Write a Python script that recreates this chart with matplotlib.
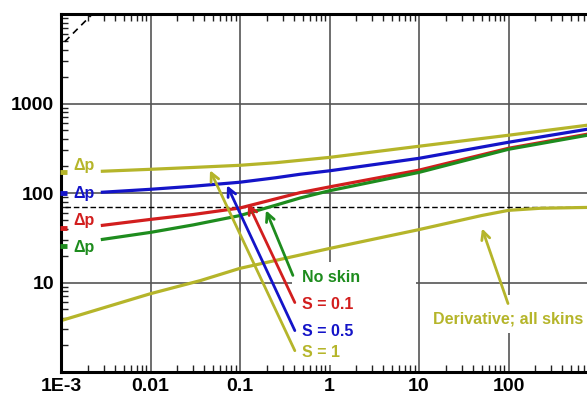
import matplotlib
matplotlib.use('Agg')
import matplotlib.pyplot as plt
from matplotlib.patches import Rectangle
from matplotlib.ticker import LogLocator, NullFormatter

# pressure change curves
t_dp = [0.0029, 0.01, 0.03, 0.1, 0.25, 0.47, 1, 10, 100, 760]
dp_s1 = [175, 184, 193, 204, 218, 232, 250, 333, 442, 572]
dp_s05 = [102, 110, 119, 132, 148, 162, 177, 244, 369, 516]
dp_s01 = [43.5, 50.7, 57.5, 68, 86, 101, 117, 180, 316, 454]
dp_noskin = [30.3, 36.3, 44, 56, 73, 88, 106, 170, 308, 442]

# derivative, same for all skins
t_der = [0.001, 0.01, 0.036, 0.1, 1, 10, 50, 100, 225, 760]
der = [3.75, 7.5, 10.5, 14.4, 24, 39, 56, 64, 67.5, 69]

# unit slope (storage) line and radial flow level
t_ws = [0.0011, 0.0022]
ws = [4900, 9800]
radial_level = 70

# little marks on the y axis for each dp curve
dp_marks = [170, 99.6, 40.2, 25.3]

x_ticks = [1e-3, 1e-2, 1e-1, 1, 10, 100]
x_labels = ['1E-3', '0.01', '0.1', '1', '10', '100']
y_ticks = [10, 100, 1000]
y_labels = ['10', '100', '1000']

yellow = '#b5b52a'
blue = '#1414c8'
red = '#d21e1e'
green = '#1e8c1e'

plt.rcParams['font.family'] = ['Liberation Sans', 'DejaVu Sans']
plt.rcParams['font.weight'] = 'bold'

fig = plt.figure(figsize=(5.87, 3.98), dpi=100)
ax = fig.add_axes([61/587, 26/398, 626.5/587, 358/398])
ax.set_xscale('log')
ax.set_yscale('log')
ax.set_xlim(1e-3, 1e4)
ax.set_ylim(1, 1e4)

ax.set_xticks(x_ticks, x_labels)
ax.set_yticks(y_ticks, y_labels)
ax.xaxis.set_minor_locator(LogLocator(base=10, subs=range(2, 10), numticks=20))
ax.yaxis.set_minor_locator(LogLocator(base=10, subs=range(2, 10), numticks=20))
ax.xaxis.set_minor_formatter(NullFormatter())
ax.yaxis.set_minor_formatter(NullFormatter())
ax.tick_params(which='major', length=0, labelsize=14, pad=4)
ax.tick_params(axis='y', which='major', pad=5)
ax.tick_params(which='minor', direction='in', length=5, width=1, top=True, color='#222222')
for lab in ax.get_xticklabels() + ax.get_yticklabels():
    lab.set_fontweight('bold')

ax.set_axisbelow(True)
ax.grid(True, which='major', color='#555555', lw=1.2)
for side in ['left', 'bottom', 'top']:
    ax.spines[side].set_linewidth(2.2)
ax.spines['right'].set_visible(False)

# white patches where the labels hide the grid
ax.add_patch(Rectangle((0.369, 0.02), 0.198, 0.287, transform=ax.transAxes,
                       facecolor='white', edgecolor='none', zorder=0.8))
ax.add_patch(Rectangle((0.589, 0.109), 0.3, 0.106, transform=ax.transAxes,
                       facecolor='white', edgecolor='none', zorder=0.8))

ax.plot(t_ws, ws, color='black', lw=1.2, ls=(0, (4, 3)))
ax.axhline(radial_level, xmin=0.006, color='black', lw=1.0, ls=(0, (4, 2)))

ax.plot(t_dp, dp_s1, color=yellow, lw=2.3)
ax.plot(t_dp, dp_s05, color=blue, lw=2.3)
ax.plot(t_dp, dp_s01, color=red, lw=2.3)
ax.plot(t_dp, dp_noskin, color=green, lw=2.3)
ax.plot(t_der, der, color=yellow, lw=2.3)

for val, c in zip(dp_marks, [yellow, blue, red, green]):
    ax.plot([0.98e-3, 1.18e-3], [val, val], color=c, lw=3.5, solid_capstyle='butt',
            clip_on=False, zorder=3)

ax.text(1.36e-3, 204, 'Δp', color=yellow, fontsize=11.5, fontweight='bold', va='center')
ax.text(1.36e-3, 99.6, 'Δp', color=blue, fontsize=11.5, fontweight='bold', va='center')
ax.text(1.36e-3, 49.4, 'Δp', color=red, fontsize=11.5, fontweight='bold', va='center')
ax.text(1.36e-3, 24.6, 'Δp', color=green, fontsize=11.5, fontweight='bold', va='center')

arrows = [
    ((0.195, 64), (0.39, 12.0), green, 'No skin', 11.4),
    ((0.123, 76.6), (0.41, 5.97), red, 'S = 0.1', 5.67),
    ((0.0716, 121.8), (0.41, 2.9), blue, 'S = 0.5', 2.83),
    ((0.0462, 179.5), (0.41, 1.73), yellow, 'S = 1', 1.65),
]
for head, tail, c, label, ty in arrows:
    ax.annotate('', xy=head, xytext=tail,
                arrowprops=dict(arrowstyle='->,head_length=0.6,head_width=0.3',
                                color=c, lw=2, shrinkA=0, shrinkB=0))
    ax.text(0.49, ty, label, color=c, fontsize=11.5, fontweight='bold', va='center')

ax.annotate('', xy=(50.6, 40.2), xytext=(98.7, 5.82),
            arrowprops=dict(arrowstyle='->,head_length=0.6,head_width=0.3',
                            color=yellow, lw=2, shrinkA=0, shrinkB=0))
ax.text(98.7, 3.93, 'Derivative; all skins', color=yellow, fontsize=11.5,
        fontweight='bold', ha='center', va='center')

plt.savefig('out.png', dpi=100)
